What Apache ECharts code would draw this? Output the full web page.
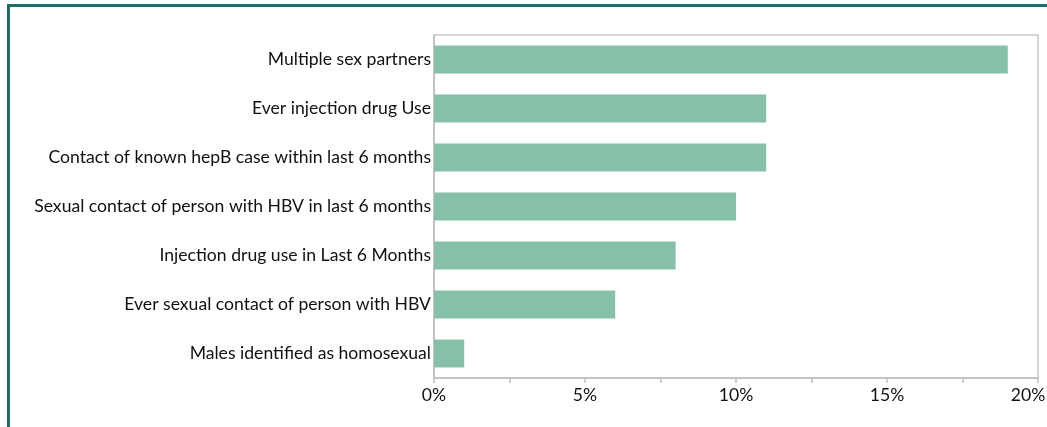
<!DOCTYPE html>
<html>
<head>
<meta charset="utf-8">
<script src="https://cdn.jsdelivr.net/npm/echarts@6/dist/echarts.min.js"></script>
<style>
  html, body { margin: 0; padding: 0; background: #fff; overflow: hidden; }
  #frame { position: absolute; left: 7px; top: 4px; width: 1100px; height: 500px; border: 3px solid #1f6d69; }
  #chart { position: absolute; left: 0; top: 0; width: 1047px; height: 427px; }
</style>
</head>
<body>
<div id="frame"></div>
<div id="chart"></div>
<script>
// categories listed bottom to top
const categories = [
  "Males identified as homosexual",
  "Ever sexual contact of person with HBV",
  "Injection drug use in Last 6 Months",
  "Sexual contact of person with HBV in last 6 months",
  "Contact of known hepB case within last 6 months",
  "Ever injection drug Use",
  "Multiple sex partners"
];
const percentValues = [1, 6, 8, 10, 11, 11, 19];
const axisMax = 20;

const chart = echarts.init(document.getElementById("chart"));
chart.setOption({
  animation: false,
  grid: {
    left: 434, right: 9, top: 35, bottom: 49,
    outerBoundsMode: "none",
    containLabel: false,
    show: true, borderColor: "#c8c8c8", borderWidth: 1.5
  },
  xAxis: {
    type: "value",
    min: 0, max: axisMax, interval: 5,
    axisLine: { show: true, lineStyle: { color: "#bdbdbd", width: 1.5 } },
    axisTick: { show: true, length: 5, lineStyle: { color: "#bdbdbd", width: 1.5 } },
    minorTick: { show: true, splitNumber: 2, length: 5, lineStyle: { color: "#bdbdbd", width: 1.5 } },
    splitLine: { show: false },
    axisLabel: {
      // last label is nudged left to stay inside the frame, like the original
      formatter: (v) => v === axisMax ? "{last|" + v + "%}" : v + "%",
      rich: { last: { fontSize: 17.6, fontFamily: "Lato", color: "#111", padding: [0, 20, 0, 0] } },
      color: "#111", fontSize: 17.6,
      fontFamily: "Lato", margin: 8
    }
  },
  yAxis: {
    type: "category",
    data: categories,
    axisLine: { show: true, lineStyle: { color: "#bdbdbd", width: 1.5 } },
    axisTick: { show: false },
    axisLabel: { color: "#111", fontSize: 17.6, fontFamily: "Lato", margin: 3 }
  },
  series: [{
    type: "bar",
    data: percentValues,
    barCategoryGap: "43%",
    itemStyle: { color: "#86c0a8" }
  }]
});
</script>
</body>
</html>
